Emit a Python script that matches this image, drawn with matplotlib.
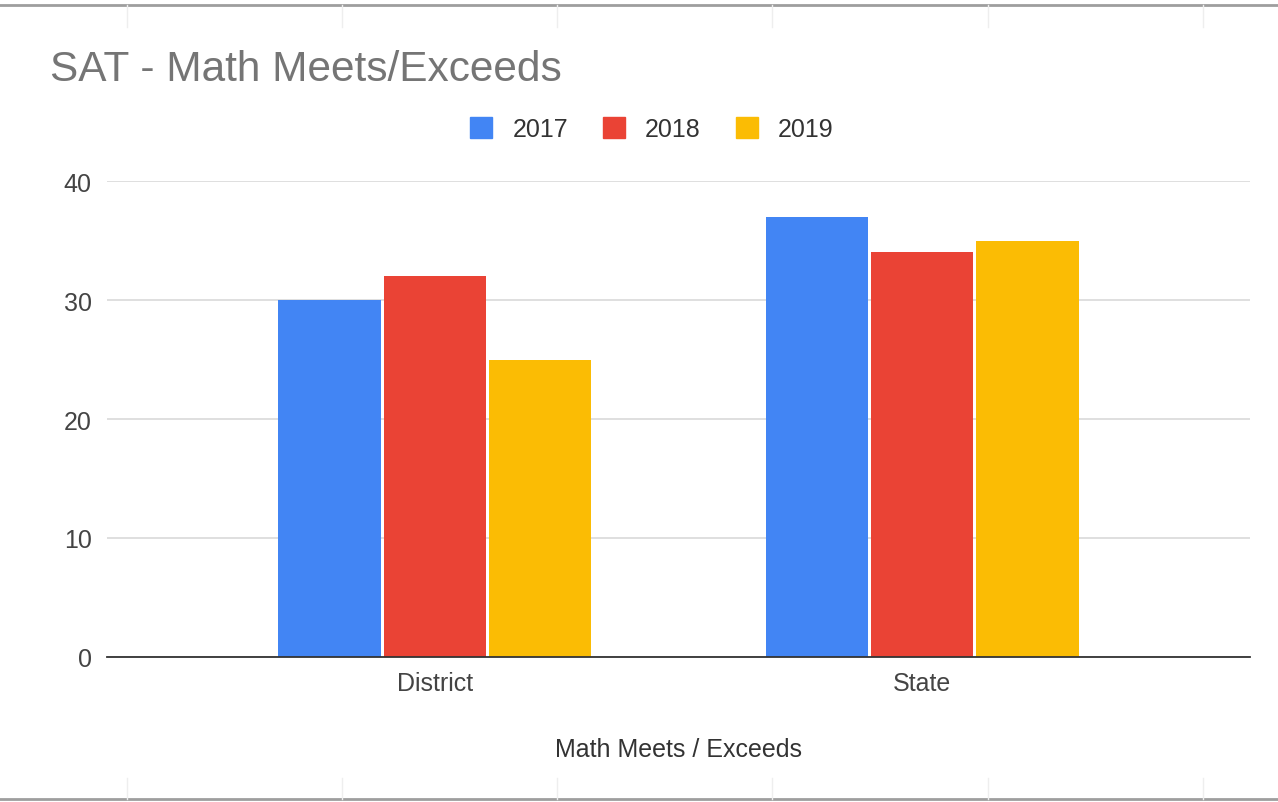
import matplotlib
matplotlib.use('Agg')
import matplotlib.pyplot as plt
import numpy as np
from matplotlib.lines import Line2D

plt.rcParams['font.family'] = ['Liberation Sans', 'DejaVu Sans']

# 데이터
categories = ['District', 'State']
years = ['2017', '2018', '2019']
values_2017 = [30, 37]
values_2018 = [32, 34]
values_2019 = [25, 35]
colors = ['#4285f4', '#ea4335', '#fbbc04']

fig = plt.figure(figsize=(12.78, 8.03), dpi=100)
ax = fig.add_axes([0.0837, 0.1806, 0.8944, 0.5927])

x = np.arange(len(categories))
width = 0.21
gap = 0.006
series = [values_2017, values_2018, values_2019]
for i, (vals, year, c) in enumerate(zip(series, years, colors)):
    ax.bar(x + (i - 1) * (width + gap), vals, width, color=c, label=year, zorder=3)

ax.set_xlim(-0.673, 1.673)
ax.set_ylim(0, 40)
ax.set_yticks([0, 10, 20, 30, 40])
ax.set_xticks(x)
ax.set_xticklabels(categories)
ax.yaxis.grid(True, color='#d9d9d9', linewidth=1.2, zorder=0)
ax.tick_params(axis='both', length=0, labelsize=18, labelcolor='#444444')
ax.tick_params(axis='y', pad=11)
ax.tick_params(axis='x', pad=10)
for s in ['top', 'right', 'left']:
    ax.spines[s].set_visible(False)
ax.spines['bottom'].set_color('#333333')
ax.spines['bottom'].set_linewidth(1.3)
ax.spines['bottom'].set_zorder(4)

ax.set_xlabel('Math Meets / Exceeds', fontsize=18, color='#333333', labelpad=30)

fig.text(0.039, 0.913, 'SAT - Math Meets/Exceeds', fontsize=30.5, color='#757575', va='center', ha='left')

handles = [plt.Rectangle((0, 0), 1, 1, color=c) for c in colors]
fig.legend(handles, years, loc='center', bbox_to_anchor=(0.510, 0.838), ncol=3, frameon=False,
           fontsize=18, handlelength=0.88, handleheight=0.88, handletextpad=0.8, columnspacing=1.4,
           labelcolor='#333333')

# 시트 테두리
for yy in [0.993, 0.004]:
    fig.add_artist(Line2D([0, 1], [yy, yy], transform=fig.transFigure, color='#9e9e9e', linewidth=2))
for xp in [127, 342, 557, 772, 988, 1203]:
    xf = xp / 1278
    fig.add_artist(Line2D([xf, xf], [0.993, 0.965], transform=fig.transFigure, color='#eeeeee', linewidth=1))
    fig.add_artist(Line2D([xf, xf], [0.004, 0.03], transform=fig.transFigure, color='#eeeeee', linewidth=1))

fig.savefig('out.png', dpi=100, facecolor='white')
